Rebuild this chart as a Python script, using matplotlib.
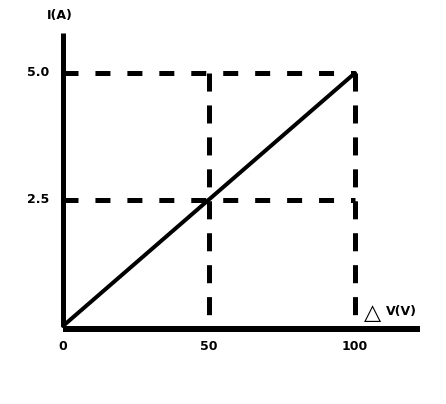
import matplotlib
matplotlib.use("Agg")
import matplotlib.pyplot as plt

plt.rcParams['lines.scale_dashes'] = False

# data
volts = [0, 50, 100]
amps = [0, 2.5, 5.0]
x_ticks = [0, 50, 100]
x_labels = ["0", "50", "100"]
y_ticks = [2.5, 5.0]
y_labels = ["2.5", "5.0"]

W, H = 446, 404
fig = plt.figure(figsize=(W / 100, H / 100), dpi=100)
ax = fig.add_axes([0, 0, 1, 1])
ax.axis("off")

# pixel mapping: origin at (63, 326), 2.92 px per volt, 50.6 px per amp
ox, oy, sx, sy = 63, 326, 2.92, 50.6
ax.set_xlim(-ox / sx, (W - ox) / sx)
ax.set_ylim(-(H - oy) / sy, oy / sy)

lw = 5 * 0.72
hdash = (10.8, 12.2)
vdash = (13.0, 10.0)

# axes
ax.plot([0, 0], [0, (oy - 33) / sy], color="black", lw=lw, solid_capstyle="butt")
ax.plot([0, (420 - ox) / sx], [-2.5 / sy, -2.5 / sy], color="black", lw=6 * 0.72,
        solid_capstyle="butt")

# dashed guides
for v, a in zip(volts[1:], amps[1:]):
    ax.plot([0, volts[-1]], [a, a], color="black", lw=lw, linestyle=(0, hdash),
            dash_capstyle="butt")
    ax.plot([v, v], [amps[-1], 0], color="black", lw=lw, linestyle=(0, vdash),
            dash_capstyle="butt")

# the I-V line
ax.plot(volts, amps, color="black", lw=4 * 0.72, solid_capstyle="round")

for t, s in zip(x_ticks, x_labels):
    ax.text(t, -(347 - oy) / sy, s, ha="center", va="center", fontsize=9,
            fontweight="bold")
for t, s in zip(y_ticks, y_labels):
    ax.text(-(ox - 38) / sx, t, s, ha="center", va="center", fontsize=9,
            fontweight="bold")

ax.text(-(ox - 60) / sx, (oy - 15) / sy, "I(A)", ha="center", va="center",
        fontsize=9, fontweight="bold")
ax.text((373 - ox) / sx, (oy - 313) / sy, "\u25b3", ha="center", va="center",
        fontsize=16)
ax.text((401 - ox) / sx, (oy - 312) / sy, "V(V)", ha="center", va="center",
        fontsize=9, fontweight="bold")

fig.savefig("out.png", dpi=100)
